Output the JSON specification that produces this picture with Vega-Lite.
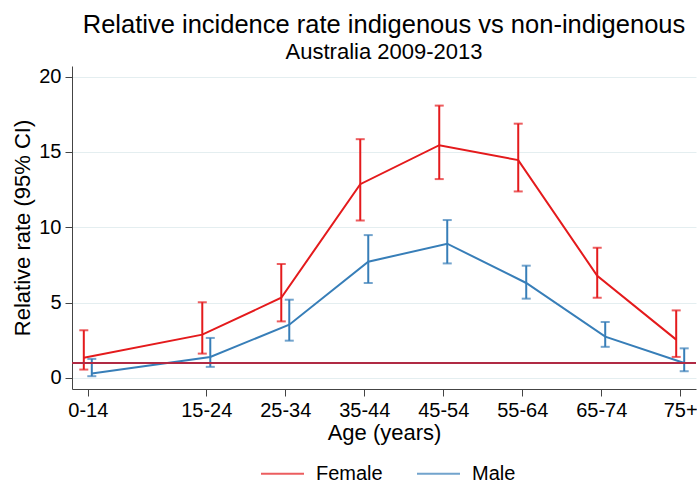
{
  "$schema": "https://vega.github.io/schema/vega-lite/v6.json",
  "width": 624,
  "height": 323,
  "autosize": {"type": "none"},
  "padding": {"left": 72, "top": 66, "right": 1, "bottom": 95},
  "background": "white",
  "title": {
    "text": "Relative incidence rate indigenous vs non-indigenous",
    "subtitle": "Australia 2009-2013",
    "anchor": "middle",
    "fontSize": 25.5,
    "subtitleFontSize": 22,
    "font": "Liberation Sans",
    "subtitleFont": "Liberation Sans",
    "fontWeight": "normal",
    "color": "black",
    "subtitleColor": "black",
    "offset": 3,
    "subtitlePadding": 4
  },
  "config": {
    "font": "Liberation Sans",
    "view": {"stroke": null},
    "axis": {
      "labelFont": "Liberation Sans",
      "titleFont": "Liberation Sans",
      "labelFontSize": 20,
      "titleFontSize": 22,
      "titleFontWeight": "normal",
      "labelColor": "black",
      "titleColor": "black",
      "domainColor": "#444",
      "tickColor": "#444",
      "tickSize": 7,
      "labelPadding": 4
    },
    "legend": {
      "labelFont": "Liberation Sans",
      "labelFontSize": 20,
      "labelColor": "black",
      "symbolType": "stroke",
      "symbolSize": 1849,
      "symbolStrokeWidth": 2,
      "labelOffset": 11,
      "columnPadding": 30
    }
  },
  "data": {
    "values": [
      {"age": 0, "sex": "Female", "rate": 1.33, "lo": 0.55, "hi": 3.16},
      {"age": 15, "sex": "Female", "rate": 2.87, "lo": 1.61, "hi": 5.02},
      {"age": 25, "sex": "Female", "rate": 5.32, "lo": 3.75, "hi": 7.56},
      {"age": 35, "sex": "Female", "rate": 12.86, "lo": 10.45, "hi": 15.85},
      {"age": 45, "sex": "Female", "rate": 15.45, "lo": 13.2, "hi": 18.08},
      {"age": 55, "sex": "Female", "rate": 14.46, "lo": 12.38, "hi": 16.88},
      {"age": 65, "sex": "Female", "rate": 6.78, "lo": 5.32, "hi": 8.64},
      {"age": 75, "sex": "Female", "rate": 2.54, "lo": 1.39, "hi": 4.48},
      {"age": 0, "sex": "Male", "rate": 0.29, "lo": 0.11, "hi": 1.26},
      {"age": 15, "sex": "Male", "rate": 1.39, "lo": 0.73, "hi": 2.65},
      {"age": 25, "sex": "Male", "rate": 3.53, "lo": 2.47, "hi": 5.19},
      {"age": 35, "sex": "Male", "rate": 7.71, "lo": 6.3, "hi": 9.48},
      {"age": 45, "sex": "Male", "rate": 8.91, "lo": 7.6, "hi": 10.48},
      {"age": 55, "sex": "Male", "rate": 6.3, "lo": 5.26, "hi": 7.45},
      {"age": 65, "sex": "Male", "rate": 2.74, "lo": 2.06, "hi": 3.71},
      {"age": 75, "sex": "Male", "rate": 0.99, "lo": 0.44, "hi": 1.96}
    ]
  },
  "encoding": {
    "x": {
      "field": "age",
      "type": "quantitative",
      "scale": {"domain": [-2, 77], "nice": false, "zero": false},
      "axis": {
        "title": "Age (years)",
        "values": [0, 15, 25, 35, 45, 55, 65, 75],
        "labelExpr": "datum.value == 0 ? '0-14' : datum.value == 75 ? '75+' : datum.value + '-' + (datum.value + 9)",
        "grid": false,
        "titlePadding": 2
      }
    },
    "color": {
      "field": "sex",
      "type": "nominal",
      "scale": {"domain": ["Female", "Male"], "range": ["#e41a1c", "#377eb8"]},
      "legend": {"title": null, "orient": "none", "direction": "horizontal", "legendX": 188, "legendY": 385}
    }
  },
  "layer": [
    {
      "mark": {"type": "rule", "strokeWidth": 2, "xOffset": {"expr": "datum.sex == 'Female' ? -4 : 4"}},
      "encoding": {
        "y": {
          "field": "lo",
          "type": "quantitative",
          "scale": {"domain": [-0.74, 20.71], "nice": false, "zero": false},
          "axis": {
            "title": "Relative rate (95% CI)",
            "values": [0, 5, 10, 15, 20],
            "grid": true,
            "gridColor": "#e4eef0",
            "gridWidth": 1,
            "titlePadding": 4
          }
        },
        "y2": {"field": "hi"}
      }
    },
    {
      "mark": {"type": "tick", "orient": "horizontal", "size": 9, "thickness": 2, "xOffset": {"expr": "datum.sex == 'Female' ? -4 : 4"}},
      "encoding": {"y": {"field": "lo", "type": "quantitative"}}
    },
    {
      "mark": {"type": "tick", "orient": "horizontal", "size": 9, "thickness": 2, "xOffset": {"expr": "datum.sex == 'Female' ? -4 : 4"}},
      "encoding": {"y": {"field": "hi", "type": "quantitative"}}
    },
    {
      "mark": {"type": "line", "strokeWidth": 2, "xOffset": {"expr": "datum.sex == 'Female' ? -4 : 4"}},
      "encoding": {"y": {"field": "rate", "type": "quantitative"}}
    },
    {
      "mark": {"type": "rule", "color": "#b02a44", "strokeWidth": 1.5},
      "encoding": {"y": {"datum": 1}, "x": null, "color": null}
    }
  ]
}
